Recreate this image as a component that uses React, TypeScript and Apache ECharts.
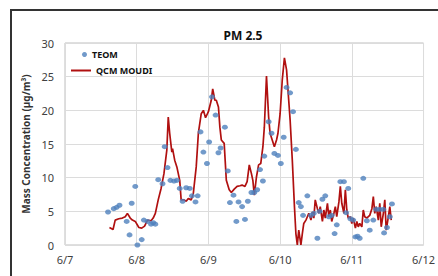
import React, { useEffect, useRef } from "react";
import * as echarts from "echarts";

// x values are days since 6/7 00:00
const xTickLabels = ["6/7", "6/8", "6/9", "6/10", "6/11", "6/12"];
const yTicks = [0, 5, 10, 15, 20, 25, 30];

const teomDays = [
  0.6, 0.68, 0.72, 0.76, 0.86, 0.9, 0.93, 0.98, 1.01, 1.07, 1.1, 1.15, 1.2, 1.23, 1.26, 1.3, 1.36, 1.39, 1.43,
  1.47, 1.52, 1.56, 1.6, 1.64, 1.69, 1.74, 1.77, 1.82, 1.85, 1.89, 1.93, 1.98, 2.01, 2.05, 2.1, 2.14, 2.17,
  2.23, 2.27, 2.3, 2.35, 2.39, 2.42, 2.47, 2.51, 2.55, 2.6, 2.64, 2.68, 2.72, 2.76, 2.78, 2.84, 2.88, 2.92,
  2.97, 3.01, 3.05, 3.09, 3.14, 3.18, 3.22, 3.26, 3.29, 3.32, 3.38, 3.43, 3.47, 3.52, 3.55, 3.59, 3.63, 3.68,
  3.72, 3.76, 3.79, 3.84, 3.89, 3.92, 3.95, 3.98, 4.02, 4.05, 4.08, 4.11, 4.16, 4.21, 4.25, 4.3, 4.34, 4.39,
  4.44, 4.45, 4.49, 4.53, 4.56,
];
const teomValues = [
  4.9, 5.4, 5.6, 5.9, 3.5, 1.5, 6.2, 8.7, 0.0, 0.8, 3.7, 3.5, 3.1, 3.3, 3.1, 9.7, 9.1, 14.6, 11.5,
  9.6, 9.5, 9.6, 8.4, 6.5, 8.5, 8.4, 7.3, 6.4, 7.3, 16.8, 13.8, 12.1, 15.3, 22.0, 19.3, 13.7, 14.4,
  17.5, 11.0, 6.3, 7.4, 3.5, 6.4, 5.7, 3.8, 6.5, 7.8, 7.8, 8.2, 11.2, 9.5, 13.2, 18.3, 16.6, 13.6,
  13.3, 12.1, 16.0, 23.4, 22.6, 19.8, 14.2, 6.3, 5.7, 4.4, 7.3, 4.4, 4.7, 1.0, 5.0, 6.8, 7.3, 4.2,
  4.4, 1.7, 3.0, 9.4, 9.4, 4.8, 8.4, 3.9, 3.7, 1.2, 1.3, 1.0, 9.9, 3.6, 2.2, 3.7, 5.3, 5.3,
  5.3, 1.8, 2.6, 4.2, 6.1,
];

const qcmDays = [
  0.62, 0.67, 0.7, 0.75, 0.8, 0.84, 0.87, 0.91, 0.94, 0.98, 1.03, 1.07, 1.11, 1.15, 1.2, 1.23, 1.26, 1.3,
  1.34, 1.38, 1.42, 1.44, 1.46, 1.49, 1.5, 1.53, 1.56, 1.6, 1.62, 1.66, 1.69, 1.72, 1.76, 1.79, 1.83, 1.86,
  1.9, 1.93, 1.96, 2.0, 2.04, 2.06, 2.09, 2.11, 2.14, 2.16, 2.18, 2.22, 2.25, 2.29, 2.32, 2.36, 2.4, 2.44,
  2.47, 2.51, 2.54, 2.57, 2.6, 2.62, 2.64, 2.67, 2.7, 2.73, 2.76, 2.78, 2.81, 2.84, 2.86, 2.89, 2.92, 2.95,
  2.97, 3.0, 3.03, 3.06, 3.09, 3.11, 3.14, 3.17, 3.2, 3.22, 3.24, 3.26, 3.29, 3.31, 3.33, 3.36, 3.38, 3.4,
  3.43, 3.45, 3.47, 3.49, 3.52, 3.54, 3.56, 3.59, 3.61, 3.63, 3.66, 3.68, 3.7, 3.72, 3.75, 3.77, 3.79, 3.82,
  3.84, 3.86, 3.89, 3.91, 3.93, 3.95, 3.98, 4.0, 4.02, 4.05, 4.07, 4.09, 4.11, 4.14, 4.16, 4.18, 4.21, 4.23,
  4.25, 4.28, 4.3, 4.32, 4.34, 4.37, 4.39, 4.41, 4.44, 4.46, 4.48, 4.51, 4.53, 4.55,
];
const qcmValues = [
  2.6, 2.3, 3.7, 3.9, 4.0, 4.2, 4.7, 4.0, 3.7, 3.5, 2.6, 2.5, 2.8, 3.7, 3.6, 4.0, 4.7, 6.7,
  8.4, 10.6, 14.1, 19.0, 16.6, 13.8, 14.3, 12.6, 11.6, 9.6, 6.7, 6.7, 6.5, 6.9, 6.7, 7.7, 11.6, 16.6,
  19.5, 20.0, 18.9, 19.8, 21.5, 23.2, 21.5, 21.5, 20.5, 17.5, 15.6, 15.1, 9.6, 8.2, 7.8, 8.3, 8.7, 8.8,
  8.9, 8.7, 9.4, 11.9, 10.6, 9.6, 7.4, 10.1, 11.9, 12.1, 14.6, 17.5, 25.1, 19.0, 16.6, 15.6, 14.6, 15.6,
  16.6, 19.5, 24.5, 27.8, 26.0, 23.0, 18.5, 12.6, 5.7, 1.7, 0.0, 2.2, 0.0, 1.7, 3.2, 3.7, 4.2, 4.7,
  3.7, 4.9, 4.0, 6.7, 5.4, 4.7, 5.7, 3.5, 5.2, 4.0, 6.2, 4.2, 5.2, 3.5, 4.7, 5.7, 4.2, 6.4,
  8.7, 6.2, 4.7, 8.2, 5.2, 4.0, 4.2, 3.2, 4.0, 2.5, 3.5, 2.7, 3.2, 2.7, 5.2, 4.2, 4.0, 4.2,
  4.4, 5.4, 7.2, 4.7, 5.7, 3.7, 6.2, 2.7, 4.7, 6.7, 2.2, 4.2, 5.7, 3.7,
];

const FONT = "'Noto Sans', 'Open Sans', sans-serif";
const RED = "#b01010";

export default function App() {
  const ref = useRef<HTMLDivElement>(null);
  useEffect(() => {
    if (!ref.current) return;
    const chart = echarts.init(ref.current, undefined, { renderer: "svg" });
    chart.setOption({
      animation: false,
      backgroundColor: "#ffffff",
      title: {
        text: "PM 2.5",
        left: 238,
        top: 24,
        textAlign: "center",
        textStyle: { fontFamily: FONT, fontSize: 12, fontWeight: "bold", color: "#111" },
      },
      legend: [
        {
          data: [{ name: "TEOM", icon: "circle" }],
          left: 77,
          top: 45,
          itemWidth: 5,
          itemHeight: 5,
          textStyle: { fontFamily: FONT, fontSize: 9, fontWeight: "bold", color: "#111" },
        },
        {
          data: [{ name: "QCM MOUDI", icon: "rect", itemStyle: { color: RED } }],
          left: 66,
          top: 61,
          itemWidth: 20,
          itemHeight: 2,
          textStyle: { fontFamily: FONT, fontSize: 9, fontWeight: "bold", color: "#111" },
        },
      ],
      grid: {
        left: 65,
        right: 12,
        top: 43,
        bottom: 31,
        show: true,
        borderColor: "#bfbfbf",
        borderWidth: 1,
      },
      xAxis: {
        type: "value",
        min: 0,
        max: 5,
        interval: 1,
        axisLine: { show: false },
        axisTick: { show: false },
        axisLabel: {
          margin: 9,
          fontFamily: FONT,
          fontSize: 11,
          color: "#404040",
          formatter: (v: number) => xTickLabels[Math.round(v)] ?? "",
        },
        splitLine: { show: true, lineStyle: { color: "#dcdcdc", width: 1 } },
      },
      yAxis: {
        type: "value",
        min: yTicks[0],
        max: yTicks[yTicks.length - 1],
        interval: 5,
        name: "Mass Concentration (µg/m³)",
        nameLocation: "middle",
        nameGap: 34,
        nameTextStyle: { fontFamily: FONT, fontSize: 10, fontWeight: "bold", color: "#333" },
        axisLine: { show: false },
        axisTick: { show: false },
        axisLabel: { margin: 11, fontFamily: FONT, fontSize: 11, color: "#404040" },
        splitLine: { show: true, lineStyle: { color: "#dcdcdc", width: 1 } },
      },
      series: [
        {
          name: "TEOM",
          type: "scatter",
          symbol: "circle",
          symbolSize: [6, 5],
          itemStyle: { color: "#4f81bd" },
          data: teomDays.map((d, i) => [d, teomValues[i]]),
          z: 3,
        },
        {
          name: "QCM MOUDI",
          type: "line",
          showSymbol: false,
          symbol: "none",
          lineStyle: { color: RED, width: 1.7 },
          itemStyle: { color: RED },
          data: qcmDays.map((d, i) => [d, qcmValues[i]]),
          z: 2,
        },
      ],
      graphic: [
        {
          type: "polyline",
          shape: { points: [[11, 276], [11, 10], [438, 10]] },
          style: { stroke: "#333", lineWidth: 2, fill: "none" },
          silent: true,
        },
      ],
    });
    return () => chart.dispose();
  }, []);
  return <div ref={ref} style={{ position: "absolute", left: 0, top: 0, width: 438, height: 276 }} />;
}
